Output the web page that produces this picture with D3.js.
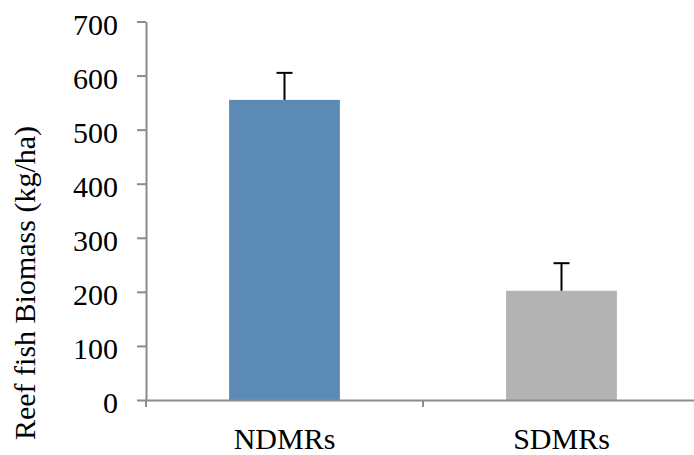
<!DOCTYPE html>
<html>
<head>
<meta charset="utf-8">
<script src="https://cdn.jsdelivr.net/npm/d3@7"></script>
<style>
  html, body { margin: 0; padding: 0; background: #fff; }
  svg { display: block; font-family: "Liberation Serif", "Times New Roman", serif; }
</style>
</head>
<body>
<svg id="chart" width="694" height="455"></svg>
<script>
const categories = ["NDMRs", "SDMRs"];
const biomass = [555, 202];
const errors = [50, 51];
const yTicks = [0, 100, 200, 300, 400, 500, 600, 700];
const yLabel = "Reef fish Biomass (kg/ha)";
const barColors = ["#5b8bb4", "#b3b3b3"];

const svg = d3.select("#chart");
const axisColor = "#8c8c8c";

const x = d3.scaleBand().domain(categories).range([146, 700]).paddingInner(0.6).paddingOuter(0.3);
const y = d3.scaleLinear().domain([0, 700]).range([400, 21.5]);

// bars
svg.selectAll("rect.bar").data(categories).enter().append("rect")
  .attr("class", "bar")
  .attr("x", d => x(d))
  .attr("width", x.bandwidth())
  .attr("y", (d, i) => y(biomass[i]))
  .attr("height", (d, i) => y(0) - y(biomass[i]))
  .attr("fill", (d, i) => barColors[i]);

// error bars (upper only)
const eg = svg.selectAll("g.err").data(categories).enter().append("g").attr("class", "err");
eg.append("line")
  .attr("x1", d => x(d) + x.bandwidth() / 2)
  .attr("x2", d => x(d) + x.bandwidth() / 2)
  .attr("y1", (d, i) => y(biomass[i]))
  .attr("y2", (d, i) => y(biomass[i] + errors[i]))
  .attr("stroke", "#000").attr("stroke-width", 2);
eg.append("line")
  .attr("x1", d => x(d) + x.bandwidth() / 2 - 8)
  .attr("x2", d => x(d) + x.bandwidth() / 2 + 8)
  .attr("y1", (d, i) => y(biomass[i] + errors[i]))
  .attr("y2", (d, i) => y(biomass[i] + errors[i]))
  .attr("stroke", "#000").attr("stroke-width", 2);

// y axis
const yAxis = svg.append("g").attr("transform", "translate(146,0)")
  .call(d3.axisLeft(y).tickValues(yTicks).tickSize(9).tickSizeOuter(0).tickPadding(19).tickFormat(d3.format("d")));
yAxis.select(".domain").attr("stroke", axisColor).attr("stroke-width", 2);
yAxis.selectAll(".tick line").attr("stroke", axisColor).attr("stroke-width", 2);
yAxis.selectAll(".tick text").attr("font-size", 30).attr("font-family", "Liberation Serif").attr("fill", "#000").attr("dy", "0.43em");

// x axis: category labels
const xAxis = svg.append("g").attr("transform", "translate(0,400)")
  .call(d3.axisBottom(x).tickSize(0).tickPadding(28));
xAxis.select(".domain").attr("stroke", axisColor).attr("stroke-width", 2);
xAxis.selectAll(".tick text").attr("font-size", 30).attr("font-family", "Liberation Serif").attr("fill", "#000");

// x axis boundary ticks
const bounds = [146, 146 + x.step(), 146 + 2 * x.step()];
svg.append("g").selectAll("line").data(bounds).enter().append("line")
  .attr("x1", d => d).attr("x2", d => d)
  .attr("y1", 400).attr("y2", 407)
  .attr("stroke", axisColor).attr("stroke-width", 2);

// y label
svg.append("text")
  .attr("transform", "translate(35,283) rotate(-90)")
  .attr("text-anchor", "middle")
  .attr("font-size", 30)
  .attr("font-family", "Liberation Serif")
  .attr("fill", "#000")
  .text(yLabel);
</script>
</body>
</html>
